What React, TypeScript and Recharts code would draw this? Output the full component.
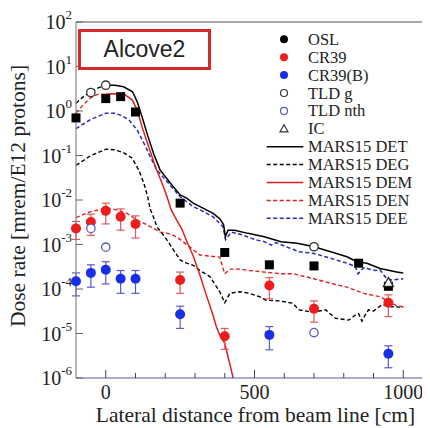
import React from 'react';
import { ComposedChart, Line, Scatter, XAxis, YAxis, ErrorBar, Legend } from 'recharts';

const SERIF = '"Liberation Serif", "Times New Roman", serif';
const SANS = '"Liberation Sans", Arial, sans-serif';
const TXT = '#222';

// ---- ticks ----
const xTicks = [0, 100, 200, 300, 400, 500, 600, 700, 800, 900, 1000, 1100];
const xLabeled = [0, 500, 1000];
const yTicks = [1e-6, 1e-5, 1e-4, 1e-3, 1e-2, 1e-1, 1, 10, 100];

// ---- measurements ----
const oslX = [-100, 0, 50, 100, 250, 400, 550, 700, 850, 950];
const oslY = [0.7, 1.9, 2.1, 0.95, 0.0085, 6.6e-4, 3.5e-4, 3.3e-4, 3.8e-4, 1.15e-4];

const cr39X = [-100, -50, 0, 50, 100, 250, 400, 550, 700, 950];
const cr39Y = [2.3e-3, 3.2e-3, 5.7e-3, 4.2e-3, 2.9e-3, 1.6e-4, 8.7e-6, 1.2e-4, 3.6e-5, 4.9e-5];
const cr39E = [1.0e-3, 1.6e-3, 2.8e-3, 2.1e-3, 1.5e-3, 8e-5, 4.3e-6, 6e-5, 1.8e-5, 2.5e-5];

const cr39bX = [-100, -50, 0, 50, 100, 250, 550, 950];
const cr39bY = [1.5e-4, 2.3e-4, 2.7e-4, 1.7e-4, 1.7e-4, 2.7e-5, 9.3e-6, 3.5e-6];
const cr39bE = [8e-5, 1.2e-4, 1.4e-4, 9e-5, 9e-5, 1.4e-5, 5e-6, 1.8e-6];

const tldgX = [-50, 0, 700];
const tldgY = [2.6, 3.8, 8.9e-4];

const tldnX = [-50, 0, 700];
const tldnY = [2.3e-3, 8.7e-4, 1.05e-5];

const icX = [950];
const icY = [1.4e-4];

// ---- MARS15 simulations ----
const detLeftX = [-100, -75, -50, -25, 0];
const detLeftY = [1.5, 2.1, 2.7, 3.3, 3.8];
const detX = [0, 30, 60, 90, 106, 122, 139, 161, 183, 217, 250, 272, 294, 317, 361, 383, 396, 402, 411, 433, 478, 533, 589, 644, 700, 756, 811, 844, 878, 922, 978, 1000];
const detY = [3.8, 3.8, 3.5, 2.7, 1.6, 0.74, 0.31, 0.11, 0.047, 0.024, 0.013, 0.011, 0.0085, 0.0071, 0.005, 0.0038, 0.0028, 0.0015, 0.0021, 0.0021, 0.00178, 0.0015, 0.00115, 0.00107, 0.00089, 0.00069, 0.00053, 0.00041, 0.00038, 0.00029, 0.00024, 0.00023];

const degX = [-100, -50, 0, 28, 61, 89, 111, 128, 141, 150, 156, 172, 206, 228, 250, 272, 294, 317, 350, 383, 400, 417, 450, 483, 517, 539, 583, 628, 650, 683, 717, 739, 772, 817, 839, 850, 861, 872, 883, 900, 928, 960, 1000];
const degY = [0.06, 0.1, 0.138, 0.135, 0.115, 0.087, 0.047, 0.024, 0.0118, 0.006, 0.005, 0.0025, 0.00126, 7.5e-4, 4.5e-4, 3.8e-4, 3.4e-4, 2.6e-4, 1.9e-4, 8.7e-5, 4.9e-5, 8e-5, 8.7e-5, 8e-5, 6.7e-5, 5.6e-5, 5.4e-5, 4.8e-5, 3.4e-5, 3.1e-5, 3.2e-5, 3.4e-5, 2.2e-5, 2e-5, 2.6e-5, 2.8e-5, 1.9e-5, 2.6e-5, 3.4e-5, 3.2e-5, 4.4e-5, 4e-5, 3.9e-5];

const demLeftX = [-100, -75, -50, -25, 0];
const demLeftY = [0.9, 1.4, 2.0, 2.4, 2.4];
const demX = [0, 30, 61, 89, 106, 122, 144, 167, 189, 206, 220, 239, 256, 272, 294, 317, 339, 361, 372, 383, 400, 411, 422, 428];
const demY = [2.4, 2.45, 2.4, 1.78, 1.05, 0.44, 0.16, 0.056, 0.024, 0.0118, 0.006, 0.0035, 0.0022, 0.0012, 5.5e-4, 2e-4, 7e-5, 2.5e-5, 1.4e-5, 9.3e-6, 6e-6, 3e-6, 1.5e-6, 1e-6];

const denX = [-100, -50, 0, 39, 72, 106, 128, 161, 183, 206, 228, 250, 272, 295, 317, 350, 383, 400, 417, 450, 483, 533, 560, 590, 633, 655, 700, 755, 811, 867, 922, 978, 1000];
const denY = [0.004, 0.0055, 0.0065, 0.006, 0.005, 0.0035, 0.003, 0.0023, 0.0019, 0.0018, 0.0016, 0.0013, 0.001, 7.5e-4, 5.8e-4, 5.5e-4, 5.2e-4, 2.2e-4, 2.8e-4, 2.8e-4, 2.6e-4, 2.4e-4, 2.3e-4, 2.2e-4, 2.2e-4, 2.0e-4, 1.7e-4, 1.35e-4, 1.1e-4, 8e-5, 6.7e-5, 4.2e-5, 4e-5];

const deeX = [-100, -50, 0, 28, 50, 78, 106, 128, 150, 172, 206, 250, 294, 317, 361, 394, 403, 422, 461, 506, 533, 556, 572, 606, 650, 700, 756, 811, 839, 848, 867, 906, 922, 944, 961, 1000];
const deeY = [0.4, 0.65, 0.89, 0.89, 0.81, 0.63, 0.37, 0.19, 0.093, 0.047, 0.026, 0.0118, 0.0071, 0.006, 0.0042, 0.0025, 0.00128, 0.0019, 0.00163, 0.00126, 0.00116, 0.00097, 0.0011, 0.00089, 0.00069, 0.00063, 0.00049, 0.00038, 0.00032, 0.00022, 0.0003, 0.00026, 0.00027, 0.00017, 0.00016, 0.00017];

const legendNames = ['OSL', 'CR39', 'CR39(B)', 'TLD g', 'TLD nth', 'IC', 'MARS15 DET', 'MARS15 DEG', 'MARS15 DEM', 'MARS15 DEN', 'MARS15 DEE'];
const titleText = 'Alcove2';
const xLabel = 'Lateral distance from beam line [cm]';
const yLabel = 'Dose rate [mrem/E12 protons]';

// ---- colors ----
const RED = '#ee1c1c';
const RED_BAR = '#e05a5a';
const BLUE = '#1a2ee6';
const BLUE_BAR = '#5a5ad0';
const LINE_RED = '#e02020';
const LINE_BLUE = '#2a2ab8';
const NTH = '#5a5ac8';

const zip = (xs: number[], ys: number[]) => xs.map((x, i) => ({ x, y: ys[i] }));
const zipE = (xs: number[], ys: number[], es: number[]) => xs.map((x, i) => ({ x, y: ys[i], e: es[i] }));

const Square = (p: any) => <rect x={p.cx - 4.5} y={p.cy - 4.5} width={9} height={9} fill="#000" />;
const Dot = (color: string) => (p: any) => <circle cx={p.cx} cy={p.cy} r={5} fill={color} />;
const Open = (color: string) => (p: any) => <circle cx={p.cx} cy={p.cy} r={4.2} fill="#fff" stroke={color} strokeWidth={1.3} />;
const Tri = (p: any) => (
  <path d={`M${p.cx},${p.cy - 5} L${p.cx + 5},${p.cy + 4} L${p.cx - 5},${p.cy + 4} Z`} fill="#fff" stroke="#222" strokeWidth={1.3} />
);

const XBottomTick = (props: any) => {
  const { x, y, payload } = props;
  const major = xLabeled.includes(payload.value);
  return (
    <g>
      <line x1={x} x2={x} y1={y} y2={y - (major ? 8 : 5)} stroke="#444" strokeWidth={1} />
      {major && (
        <text x={x} y={y + 14} textAnchor="middle" dominantBaseline="central" fontFamily={SERIF} fontSize={20} fill={TXT}>
          {payload.value}
        </text>
      )}
    </g>
  );
};

const XTopTick = (props: any) => {
  const { x, y, payload } = props;
  const major = xLabeled.includes(payload.value);
  return <line x1={x} x2={x} y1={y} y2={y + (major ? 7 : 4)} stroke="#444" strokeWidth={1} />;
};

const YLeftTick = (props: any) => {
  const { x, y, payload } = props;
  const exp = Math.round(Math.log10(payload.value));
  return (
    <g>
      <line x1={x + 4} x2={x + 11} y1={y} y2={y} stroke="#666" strokeWidth={1} />
      <text x={x} y={y} textAnchor="end" dominantBaseline="central" fontFamily={SERIF} fontSize={20} fill={TXT}>
        10<tspan dy={-8} fontSize={13}>{exp}</tspan>
      </text>
    </g>
  );
};

const YRightTick = (props: any) => {
  const { x, y } = props;
  return <line x1={x - 7} x2={x} y1={y} y2={y} stroke="#666" strokeWidth={1} />;
};

const LegendContent = () => {
  const rowY = (i: number) => 9.3 + i * 17.9;
  const mx = 22;
  const markers = [
    <circle cx={mx} cy={rowY(0)} r={4} fill="#000" />,
    <circle cx={mx} cy={rowY(1)} r={4} fill={RED} />,
    <circle cx={mx} cy={rowY(2)} r={4} fill={BLUE} />,
    <circle cx={mx} cy={rowY(3)} r={3.5} fill="#fff" stroke="#333" strokeWidth={1.2} />,
    <circle cx={mx} cy={rowY(4)} r={3.5} fill="#fff" stroke={NTH} strokeWidth={1.2} />,
    <path d={`M${mx},${rowY(5) - 4} L${mx + 4},${rowY(5) + 3} L${mx - 4},${rowY(5) + 3} Z`} fill="#fff" stroke="#333" strokeWidth={1.2} />,
    <line x1={4.7} x2={41.3} y1={rowY(6)} y2={rowY(6)} stroke="#000" strokeWidth={1.5} />,
    <line x1={4.7} x2={41.3} y1={rowY(7)} y2={rowY(7)} stroke="#000" strokeWidth={1.5} strokeDasharray="4 2.5" />,
    <line x1={4.7} x2={41.3} y1={rowY(8)} y2={rowY(8)} stroke={LINE_RED} strokeWidth={1.5} />,
    <line x1={4.7} x2={41.3} y1={rowY(9)} y2={rowY(9)} stroke={LINE_RED} strokeWidth={1.5} strokeDasharray="4 2.5" />,
    <line x1={4.7} x2={41.3} y1={rowY(10)} y2={rowY(10)} stroke={LINE_BLUE} strokeWidth={1.5} strokeDasharray="4 2.5" />,
  ];
  return (
    <svg width={170} height={205} style={{ display: 'block' }}>
      {legendNames.map((name, i) => (
        <g key={name}>
          {markers[i]}
          <text x={46} y={rowY(i)} dominantBaseline="central" fontFamily={SERIF} fontSize={16.5} fill={TXT}>
            {name}
          </text>
        </g>
      ))}
    </svg>
  );
};

export default function App() {
  return (
    <div style={{ position: 'relative', width: 430, height: 428, overflow: 'hidden', margin: '-8px 0 0 -8px', background: '#fff' }}>
      <ComposedChart width={440} height={428} margin={{ top: 0, right: 0, bottom: 0, left: 0 }}>
        <XAxis
          xAxisId={0}
          dataKey="x"
          type="number"
          domain={[-100, 1100]}
          ticks={xTicks}
          interval={0}
          height={50}
          tickSize={0}
          tickMargin={0}
          tickLine={false}
          tick={<XBottomTick />}
          axisLine={{ stroke: '#5a5aa8', strokeWidth: 1.2 }}
          label={{
            content: (p: any) => (
              <text
                x={p.viewBox.x + p.viewBox.width / 2 + 1}
                y={p.viewBox.y + 37}
                textAnchor="middle"
                dominantBaseline="central"
                fontFamily={SERIF}
                fontSize={21.5}
                fill={TXT}
              >
                {xLabel}
              </text>
            ),
          }}
        />
        <XAxis
          xAxisId="t"
          orientation="top"
          dataKey="x"
          type="number"
          domain={[-100, 1100]}
          ticks={xTicks}
          interval={0}
          height={22}
          tickSize={0}
          tickMargin={0}
          tickLine={false}
          tick={<XTopTick />}
          axisLine={{ stroke: '#555', strokeWidth: 1 }}
        />
        <YAxis
          yAxisId={0}
          type="number"
          scale="log"
          domain={[1e-6, 100]}
          ticks={yTicks}
          interval={0}
          width={76}
          tickSize={0}
          tickMargin={4}
          tickLine={false}
          tick={<YLeftTick />}
          axisLine={{ stroke: '#888', strokeWidth: 1.2 }}
          label={{
            content: (p: any) => {
              const cx = 18;
              const cy = p.viewBox.y + p.viewBox.height / 2 - 4;
              return (
                <text
                  x={cx}
                  y={cy}
                  transform={`rotate(-90 ${cx} ${cy})`}
                  textAnchor="middle"
                  dominantBaseline="central"
                  fontFamily={SERIF}
                  fontSize={21.5}
                  fill={TXT}
                >
                  {yLabel}
                </text>
              );
            },
          }}
        />
        <YAxis
          yAxisId="r"
          orientation="right"
          type="number"
          scale="log"
          domain={[1e-6, 100]}
          ticks={yTicks}
          interval={0}
          width={7}
          tickSize={0}
          tickMargin={0}
          tickLine={false}
          tick={<YRightTick />}
          axisLine={{ stroke: '#555', strokeWidth: 1 }}
        />

        <Legend
          content={<LegendContent />}
          layout="horizontal"
          verticalAlign="middle"
          align="center"
          wrapperStyle={{ position: 'absolute', left: 262, top: 30, width: 170, height: 205 }}
        />

        <Line data={zip(degX, degY)} dataKey="y" type="linear" stroke="#000" strokeWidth={1.4} strokeDasharray="4 2.5" dot={false} isAnimationActive={false} />
        <Line data={zip(denX, denY)} dataKey="y" type="linear" stroke={LINE_RED} strokeWidth={1.4} strokeDasharray="4 2.5" dot={false} isAnimationActive={false} />
        <Line data={zip(deeX, deeY)} dataKey="y" type="linear" stroke={LINE_BLUE} strokeWidth={1.5} strokeDasharray="4 2.5" dot={false} isAnimationActive={false} />
        <Line data={zip(demLeftX, demLeftY)} dataKey="y" type="linear" stroke={LINE_RED} strokeWidth={1.4} strokeDasharray="4 2.5" dot={false} isAnimationActive={false} />
        <Line data={zip(demX, demY)} dataKey="y" type="linear" stroke={LINE_RED} strokeWidth={1.5} dot={false} isAnimationActive={false} />
        <Line data={zip(detLeftX, detLeftY)} dataKey="y" type="linear" stroke="#000" strokeWidth={1.4} strokeDasharray="4 2.5" dot={false} isAnimationActive={false} />
        <Line data={zip(detX, detY)} dataKey="y" type="linear" stroke="#000" strokeWidth={1.5} dot={false} isAnimationActive={false} />

        <Scatter data={zipE(cr39X, cr39Y, cr39E)} dataKey="y" shape={Dot(RED)} isAnimationActive={false}>
          <ErrorBar dataKey="e" direction="y" width={4} stroke={RED_BAR} strokeWidth={1.2} />
        </Scatter>
        <Scatter data={zipE(cr39bX, cr39bY, cr39bE)} dataKey="y" shape={Dot(BLUE)} isAnimationActive={false}>
          <ErrorBar dataKey="e" direction="y" width={4} stroke={BLUE_BAR} strokeWidth={1.2} />
        </Scatter>
        <Scatter data={zip(oslX, oslY)} dataKey="y" shape={Square} isAnimationActive={false} />
        <Scatter data={zip(tldgX, tldgY)} dataKey="y" shape={Open('#333')} isAnimationActive={false} />
        <Scatter data={zip(tldnX, tldnY)} dataKey="y" shape={Open(NTH)} isAnimationActive={false} />
        <Scatter data={zip(icX, icY)} dataKey="y" shape={Tri} isAnimationActive={false} />
      </ComposedChart>

      <div
        style={{
          position: 'absolute',
          left: 78,
          top: 29,
          width: 133,
          height: 41,
          boxSizing: 'border-box',
          border: '3px solid #d42a2a',
          background: '#fff',
          display: 'flex',
          alignItems: 'center',
          justifyContent: 'center',
          fontFamily: SANS,
          fontSize: 23,
          color: TXT,
        }}
      >
        {titleText}
      </div>
    </div>
  );
}
